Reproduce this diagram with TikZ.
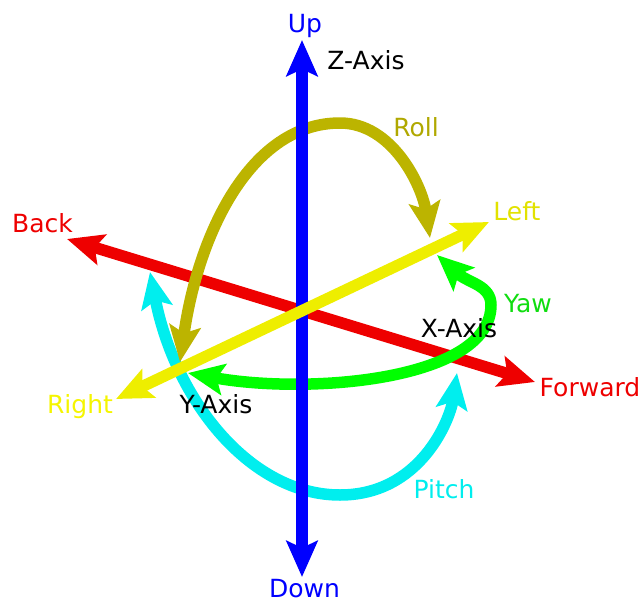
\documentclass[tikz,border=0pt]{standalone}
\usepackage{fontspec}
\setmainfont{DejaVu Sans}
\usetikzlibrary{arrows.meta}
\definecolor{axblue}{HTML}{0000FF}
\definecolor{axred}{HTML}{EE0000}
\definecolor{axyellow}{HTML}{EEEE00}
\definecolor{rollc}{HTML}{BCB400}
\definecolor{rolllab}{HTML}{B0A800}
\definecolor{yawc}{HTML}{00FF00}
\definecolor{yawlab}{HTML}{11DD11}
\definecolor{pitchc}{HTML}{00EEEE}
\definecolor{leftlab}{HTML}{E2E200}
\definecolor{rightlab}{HTML}{F5F500}
\begin{document}
\begin{tikzpicture}[x=1pt,y=-1pt,
  tipk/.tip={Stealth[length=36pt,width=31pt,inset=7pt]},
  bigarrow/.style={line width=11.5pt,{tipk}-{tipk}},
  lab/.style={anchor=base,inner sep=0pt,font=\fontsize{25}{29}\selectfont}]
\useasboundingbox (0,0) rectangle (641,603);
% end points
\coordinate (zt) at (302,40);
\coordinate (zb) at (302,577);
\coordinate (xb) at (67,239);
\coordinate (xf) at (535,382);
\coordinate (yr) at (116,399);
\coordinate (yl) at (489,222);
\coordinate (rs) at (180,362);
\coordinate (rt) at (340,123);
\coordinate (re) at (430,238);
\coordinate (ws) at (188,373);
\coordinate (wm) at (491,305);
\coordinate (we) at (437,255);
\coordinate (ps) at (150,272);
\coordinate (pm) at (340,495);
\coordinate (pe) at (457,373);
% arrows
\draw[bigarrow,axred] (xb) -- (xf);
\draw[bigarrow,pitchc] (ps) .. controls (175,400) and (250,495) .. (pm)
  .. controls (420,495) and (450,420) .. (pe);
\draw[bigarrow,yawc] (ws) .. controls (310,395) and (491,380) .. (wm)
  .. controls (491,285) and (468,283) .. (we);
\draw[bigarrow,rollc] (rs) .. controls (198,235) and (250,123) .. (rt)
  .. controls (392,123) and (422,185) .. (re);
\draw[bigarrow,axblue] (zt) -- (zb);
\draw[bigarrow,axyellow] (yr) -- (yl);
% labels
\node[lab,text=axblue] (up) at (305,32) {Up};
\node[lab,text=axblue] (down) at (304.5,597) {Down};
\node[lab] (zax) at (366,69) {Z-Axis};
\node[lab,text=axred] (back) at (42.5,232) {Back};
\node[lab,text=axred] (fwd) at (590,396) {Forward};
\node[lab] (xax) at (459,337) {X-Axis};
\node[lab,text=leftlab] (left) at (517,220) {Left};
\node[lab,text=rightlab] (right) at (80,413) {Right};
\node[lab] (yax) at (216,413) {Y-Axis};
\node[lab,text=rolllab] (roll) at (416,136) {Roll};
\node[lab,text=yawlab] (yaw) at (528,312) {Yaw};
\node[lab,text=pitchc] (pitch) at (444,498) {Pitch};
\end{tikzpicture}
\end{document}
